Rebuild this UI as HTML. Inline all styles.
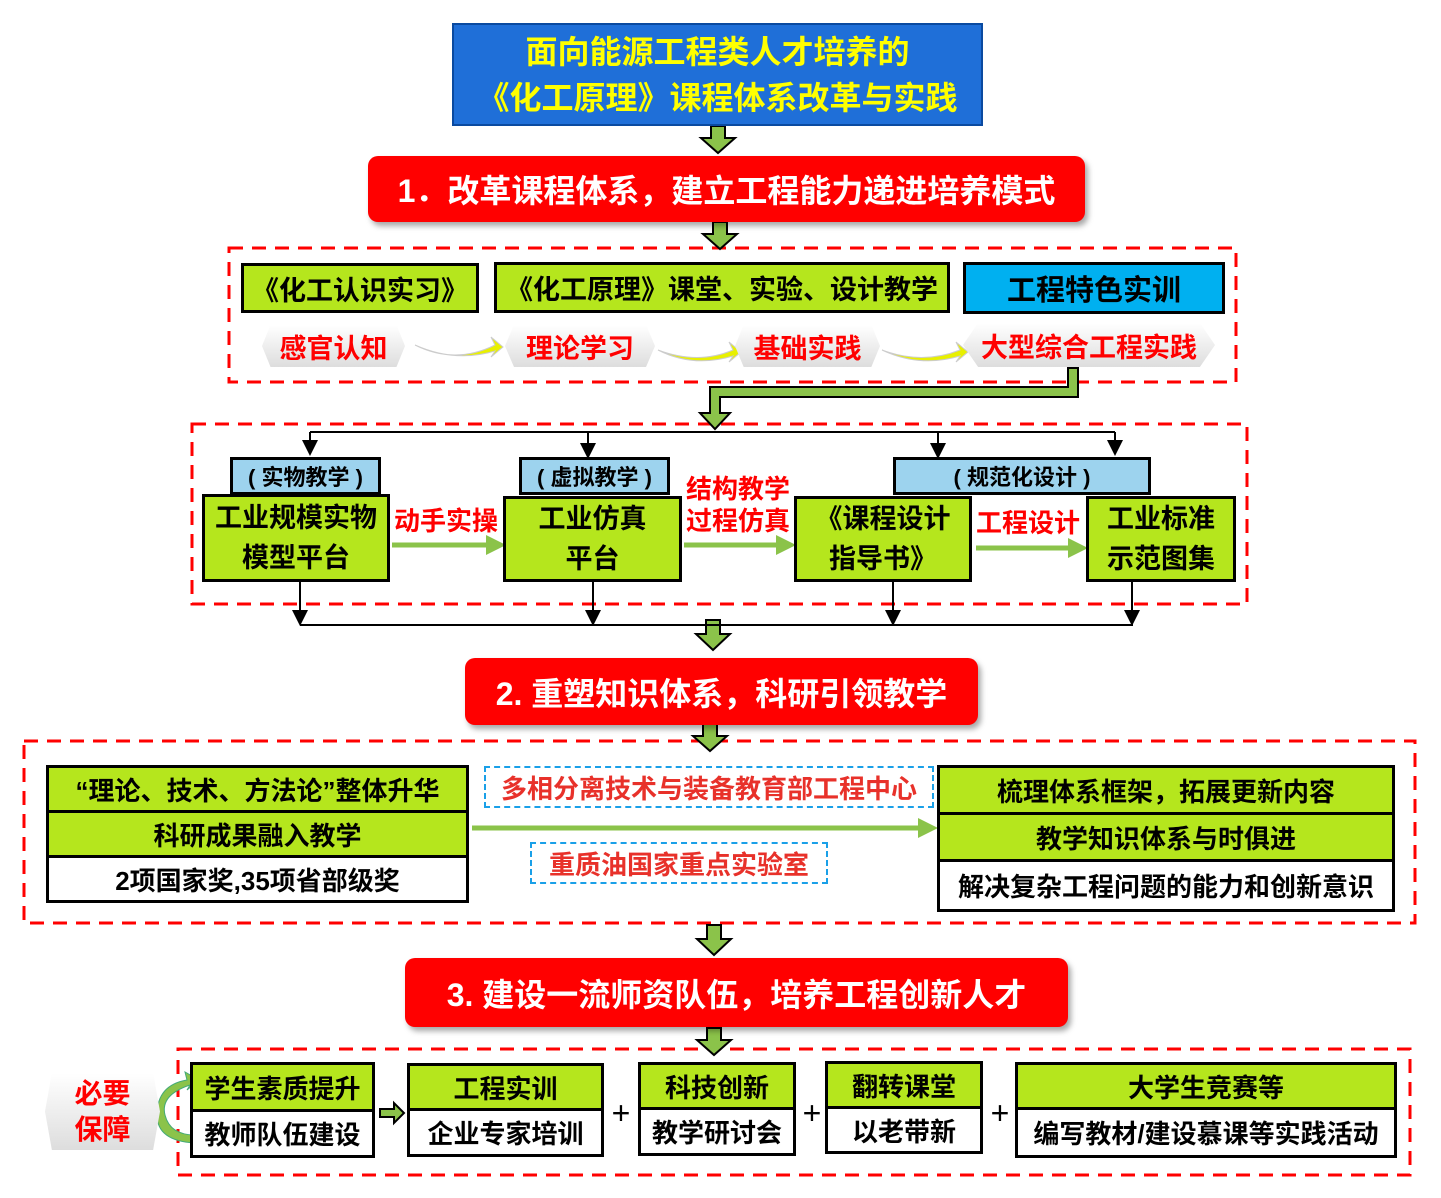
<!DOCTYPE html>
<html><head><meta charset="utf-8"><style>
body{margin:0;width:1441px;height:1198px;background:#fff;position:relative;overflow:hidden;font-family:"Liberation Sans","Noto Sans CJK SC",sans-serif;font-weight:bold}
.a{position:absolute;box-sizing:border-box;display:flex;align-items:center;justify-content:center;text-align:center;white-space:nowrap}
.g{background:#b5e61d;border:3px solid #000;color:#000}
.w{background:#fff;border:3px solid #000;color:#000}
.lb{background:#9dd3ee;border:3px solid #000;color:#000;font-size:22px}
.ban{background:#f00;color:#fff;border-radius:10px;font-size:32px;box-shadow:3px 4px 6px rgba(0,0,0,.35)}
.hx{color:#f00;font-size:27px;background:linear-gradient(#fff,#ddd);clip-path:polygon(6% 0,94% 0,100% 50%,94% 100%,6% 100%,0 50%);filter:drop-shadow(0 6px 6px #999)}
.rt{color:#f00;font-size:26px}
.bd{border:2px dashed #1aa0e8;color:#e8312a;font-size:26px;background:#fff}
</style></head><body>
<svg width="1441" height="1198" style="position:absolute;left:0;top:0">
<defs>
<marker id="m" markerWidth="8" markerHeight="8" refX="6" refY="4" orient="auto"><path d="M0,0L8,4L0,8z" fill="#000"/></marker>
<marker id="gm" markerWidth="4" markerHeight="4" refX="2" refY="2" orient="auto"><path d="M0,0L4,2L0,4z" fill="#8bc34a"/></marker>
</defs>
<g fill="none" stroke="#f00" stroke-width="3" stroke-dasharray="14,9">
<rect x="229" y="248" width="1007" height="134"/>
<rect x="192" y="424" width="1055" height="180"/>
<rect x="24" y="741" width="1391" height="182"/>
<rect x="178" y="1049" width="1232" height="126"/>
</g>
<g fill="#8bc34a" stroke="#000" stroke-width="2">
<path d="M711,126h14v12h10l-17,15l-17,-15h10z"/>
<path d="M713,222h14v12h10l-17,15l-17,-15h10z"/>
<path d="M706,620h14v14h10l-17,16l-17,-16h10z"/>
<path d="M703,724h14v12h10l-17,15l-17,-15h10z"/>
<path d="M707,925h14v14h10l-17,16l-17,-16h10z"/>
<path d="M707,1028h14v12h10l-17,15l-17,-15h10z"/>
<path d="M1068,368h10v29h-358v16h10l-15,16l-15,-16h10v-26h358z"/>
<path d="M380,1109h14v-6l10,10l-10,10v-6h-14z"/>
</g>
<g stroke="#000" stroke-width="2" fill="none">
<line x1="310" y1="432" x2="1115" y2="432"/>
<line x1="310" y1="432" x2="310" y2="452" marker-end="url(#m)"/>
<line x1="588" y1="432" x2="588" y2="455" marker-end="url(#m)"/>
<line x1="938" y1="432" x2="938" y2="455" marker-end="url(#m)"/>
<line x1="1115" y1="432" x2="1115" y2="452" marker-end="url(#m)"/>
<line x1="300" y1="582" x2="300" y2="622" marker-end="url(#m)"/>
<line x1="593" y1="582" x2="593" y2="622" marker-end="url(#m)"/>
<line x1="893" y1="582" x2="893" y2="622" marker-end="url(#m)"/>
<line x1="1132" y1="582" x2="1132" y2="622" marker-end="url(#m)"/>
<line x1="300" y1="625" x2="1133" y2="625"/>
</g>
<g stroke="#8bc34a" stroke-width="5" fill="none">
<line x1="392" y1="545" x2="496" y2="545" marker-end="url(#gm)"/>
<line x1="684" y1="545" x2="786" y2="545" marker-end="url(#gm)"/>
<line x1="976" y1="548" x2="1078" y2="548" marker-end="url(#gm)"/>
<line x1="472" y1="828" x2="928" y2="828" marker-end="url(#gm)"/>
</g>
<g fill="#e8f000" stroke="#ccc" stroke-width="1">
<path d="M415,345q40,20 80,0l-4,-8l12,10l-12,10l4,-6q-40,12 -80,-6z"/>
<path d="M658,350q40,15 75,0l-4,-8l12,10l-12,10l4,-6q-40,12 -75,-6z"/>
<path d="M882,350q40,15 78,0l-4,-8l12,10l-12,10l4,-6q-40,12 -78,-6z"/>
</g>
<path d="M190,1085q-30,10 -25,30q5,20 30,20v8q-38,-2 -38,-28q0,-30 30,-35l-2,-8l14,8l-12,10z" fill="#8bc34a" stroke="#4a7" stroke-width="1"/>
<g font-size="32" fill="#000" font-weight="normal" text-anchor="middle"><text x="621" y="1124">+</text><text x="812" y="1124">+</text><text x="1000" y="1124">+</text></g>
</svg>

<div class="a" style="left:452px;top:23px;width:531px;height:103px;background:#1f6fd8;border:2px solid #0a4aa0;color:#ffff00;font-size:32px;flex-direction:column;line-height:46px">面向能源工程类人才培养的<br>《化工原理》课程体系改革与实践</div>
<div class="a ban" style="left:368px;top:156px;width:717px;height:66px">1．改革课程体系，建立工程能力递进培养模式</div>

<div class="a g" style="left:241px;top:263px;width:238px;height:50px;font-size:27px">《化工认识实习》</div>
<div class="a g" style="left:494px;top:262px;width:456px;height:51px;font-size:27px">《化工原理》课堂、实验、设计教学</div>
<div class="a" style="left:963px;top:262px;width:262px;height:52px;background:#00b0f0;border:3px solid #000;font-size:29px;color:#000">工程特色实训</div>
<div class="a hx" style="left:262px;top:325px;width:143px;height:42px">感官认知</div>
<div class="a hx" style="left:505px;top:325px;width:150px;height:42px">理论学习</div>
<div class="a hx" style="left:735px;top:325px;width:145px;height:42px">基础实践</div>
<div class="a hx" style="left:963px;top:323px;width:252px;height:44px">大型综合工程实践</div>

<div class="a lb" style="left:230px;top:457px;width:151px;height:38px">( 实物教学 )</div>
<div class="a lb" style="left:519px;top:457px;width:151px;height:38px">( 虚拟教学 )</div>
<div class="a lb" style="left:893px;top:457px;width:258px;height:38px">( 规范化设计 )</div>
<div class="a g" style="left:202px;top:494px;width:188px;height:88px;font-size:27px;line-height:40px">工业规模实物<br>模型平台</div>
<div class="a g" style="left:503px;top:496px;width:179px;height:86px;font-size:27px;line-height:40px">工业仿真<br>平台</div>
<div class="a g" style="left:794px;top:496px;width:178px;height:86px;font-size:27px;line-height:40px">《课程设计<br>指导书》</div>
<div class="a g" style="left:1086px;top:496px;width:150px;height:86px;font-size:27px;line-height:40px">工业标准<br>示范图集</div>
<div class="a rt" style="left:392px;top:503px;width:108px;height:32px">动手实操</div>
<div class="a rt" style="left:683px;top:473px;width:110px;height:64px;line-height:32px">结构教学<br>过程仿真</div>
<div class="a rt" style="left:975px;top:505px;width:106px;height:32px">工程设计</div>

<div class="a ban" style="left:465px;top:658px;width:513px;height:67px">2. 重塑知识体系，科研引领教学</div>

<div class="a g" style="left:46px;top:765px;width:423px;height:48px;font-size:26px">“理论、技术、方法论”整体升华</div>
<div class="a g" style="left:46px;top:810px;width:423px;height:48px;font-size:26px">科研成果融入教学</div>
<div class="a w" style="left:46px;top:855px;width:423px;height:48px;font-size:26px">2项国家奖,35项省部级奖</div>
<div class="a bd" style="left:484px;top:766px;width:450px;height:42px">多相分离技术与装备教育部工程中心</div>
<div class="a bd" style="left:530px;top:842px;width:298px;height:42px">重质油国家重点实验室</div>
<div class="a g" style="left:937px;top:765px;width:458px;height:50px;font-size:26px">梳理体系框架，拓展更新内容</div>
<div class="a g" style="left:937px;top:812px;width:458px;height:50px;font-size:26px">教学知识体系与时俱进</div>
<div class="a w" style="left:937px;top:859px;width:458px;height:53px;font-size:26px">解决复杂工程问题的能力和创新意识</div>

<div class="a ban" style="left:405px;top:958px;width:663px;height:69px">3. 建设一流师资队伍，培养工程创新人才</div>

<div class="a hx" style="left:45px;top:1073px;width:115px;height:77px;font-size:28px;line-height:36px">必要<br>保障</div>
<div class="a g" style="left:190px;top:1062px;width:185px;height:50px;font-size:26px">学生素质提升</div>
<div class="a w" style="left:190px;top:1109px;width:185px;height:49px;font-size:26px">教师队伍建设</div>
<div class="a g" style="left:407px;top:1063px;width:197px;height:48px;font-size:26px">工程实训</div>
<div class="a w" style="left:407px;top:1108px;width:197px;height:49px;font-size:26px">企业专家培训</div>
<div class="a g" style="left:638px;top:1062px;width:158px;height:48px;font-size:26px">科技创新</div>
<div class="a w" style="left:638px;top:1107px;width:158px;height:49px;font-size:26px">教学研讨会</div>
<div class="a g" style="left:825px;top:1061px;width:158px;height:48px;font-size:26px">翻转课堂</div>
<div class="a w" style="left:825px;top:1106px;width:158px;height:48px;font-size:26px">以老带新</div>
<div class="a g" style="left:1015px;top:1062px;width:382px;height:48px;font-size:26px">大学生竞赛等</div>
<div class="a w" style="left:1015px;top:1107px;width:382px;height:51px;font-size:26px">编写教材/建设慕课等实践活动</div>
</body></html>
